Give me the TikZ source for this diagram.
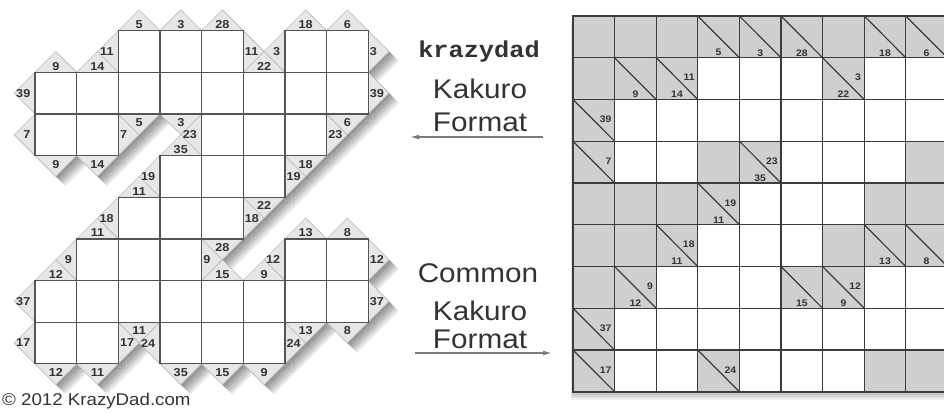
\documentclass[tikz,border=0pt]{standalone}
\usepackage{fontspec}
\setmainfont{Liberation Sans}[FakeStretch=1.1]
\newfontfamily\kdmono{Liberation Mono}[FakeStretch=1.1]
\usepackage{xcolor}
\usetikzlibrary{arrows.meta}

\definecolor{cellline}{HTML}{555555}
\definecolor{gridline}{HTML}{3C3C3C}
\definecolor{blockgray}{HTML}{CFCFCF}
\definecolor{cluetri}{HTML}{E7E7E7}
\definecolor{cluetriline}{HTML}{BBBBBB}
\definecolor{labeltext}{HTML}{333333}
\definecolor{arrowgray}{HTML}{7A7A7A}

% puzzle data, row/col in the common layout
\newcommand\whitecells{1/3,1/4,1/5,1/7,1/8,%
2/1,2/2,2/3,2/4,2/5,2/6,2/7,2/8,%
3/1,3/2,3/5,3/6,3/7,%
4/4,4/5,4/6,%
5/3,5/4,5/5,%
6/2,6/3,6/4,6/7,6/8,%
7/1,7/2,7/3,7/4,7/5,7/6,7/7,7/8,%
8/1,8/2,8/4,8/5,8/6}
% row/col/across/down (0 = none)
\newcommand\cluecells{0/3/0/5,0/4/0/3,0/5/0/28,0/7/0/18,0/8/0/6,%
1/1/0/9,1/2/11/14,1/6/3/22,2/0/39/0,3/0/7/0,3/4/23/35,%
4/3/19/11,5/2/18/11,5/7/0/13,5/8/0/8,6/1/9/12,6/5/0/15,%
6/6/12/9,7/0/37/0,8/0/17/0,8/3/24/0}
% cells just past the end of each run
\newcommand\acrossends{1/6/11,1/9/3,2/9/39,3/3/7,3/8/23,4/7/19,%
5/6/18,6/5/9,6/9/12,7/9/37,8/3/17,8/7/24}
\newcommand\downends{4/1/9,4/2/14,3/3/5,3/4/3,6/5/28,5/6/22,4/7/18,%
3/8/6,9/4/35,8/3/11,9/2/11,9/1/12,9/5/15,9/6/9,8/7/13,8/8/8}

\newcommand\kdoutline[1]{%
  \foreach \r/\c in \whitecells {\fill[#1] (\c,\r) rectangle ++(1,1);}%
  \foreach \r/\c/\a/\d in \cluecells {%
    \ifnum\a>0 \fill[#1] (\c+1,\r) -- (\c+1,\r+1) -- (\c+.5,\r+.5) -- cycle;\fi
    \ifnum\d>0 \fill[#1] (\c,\r+1) -- (\c+1,\r+1) -- (\c+.5,\r+.5) -- cycle;\fi
  }%
  \foreach \r/\c/\v in \acrossends {\fill[#1] (\c,\r) -- (\c,\r+1) -- (\c+.5,\r+.5) -- cycle;}%
  \foreach \r/\c/\v in \downends {\fill[#1] (\c,\r) -- (\c+1,\r) -- (\c+.5,\r+.5) -- cycle;}%
}

\begin{document}
\begin{tikzpicture}[x=1pt,y=-1pt,>={Latex[length=9pt,width=5pt]},
  cluetri/.style={fill=cluetri,draw=cluetriline,line width=0.6pt,line join=round},
  kdcell/.style={fill=white,draw=cellline,line width=1.2pt},
  leftnum/.style={font=\fontsize{11.5}{11.5}\selectfont\bfseries,text=labeltext,inner sep=0pt},
  rightnum/.style={font=\fontsize{9.5}{9.5}\selectfont\bfseries,text=labeltext,inner sep=0pt},
  gridline/.style={draw=gridline,line width=1.2pt},
  midtext/.style={font=\fontsize{27}{27}\selectfont,text=labeltext,anchor=base,inner sep=0pt},
  fmtarrow/.style={->,draw=arrowgray,line width=1.4pt}]
\useasboundingbox (0,0) rectangle (944,412);
\clip (0,0) rectangle (944,412);

% krazydad layout
\begin{scope}[shift={(-6.65,-11)},x=41.65pt,y=-41.65pt]
  \foreach \k in {1,...,6} {
    \begin{scope}[xshift={1.6pt*\k},yshift={-1.6pt*\k}]
      \kdoutline{black,opacity=0.085}
    \end{scope}
  }
  \foreach \r/\c/\a/\d in \cluecells {
    \ifnum\a>0 \filldraw[cluetri] (\c+1,\r) -- (\c+1,\r+1) -- (\c+.5,\r+.5) -- cycle;\fi
    \ifnum\d>0 \filldraw[cluetri] (\c,\r+1) -- (\c+1,\r+1) -- (\c+.5,\r+.5) -- cycle;\fi
  }
  \foreach \r/\c/\v in \acrossends
    \filldraw[cluetri] (\c,\r) -- (\c,\r+1) -- (\c+.5,\r+.5) -- cycle;
  \foreach \r/\c/\v in \downends
    \filldraw[cluetri] (\c,\r) -- (\c+1,\r) -- (\c+.5,\r+.5) -- cycle;
  \foreach \r/\c in \whitecells
    \draw[kdcell] (\c,\r) rectangle ++(1,1);
  \foreach \r/\c/\a/\d in \cluecells {
    \ifnum\a>0 \node[leftnum,anchor=east,xshift=-4.5pt] (lsa-\r-\c) at (\c+1,\r+.5) {\a};\fi
    \ifnum\d>0 \node[leftnum,yshift=6pt] (lsd-\r-\c) at (\c+.5,\r+1) {\d};\fi
  }
  \foreach \r/\c/\v in \acrossends
    \node[leftnum,anchor=west,xshift=1.5pt] (lea-\r-\c) at (\c,\r+.5) {\v};
  \foreach \r/\c/\v in \downends
    \node[leftnum,yshift=-8.5pt] (led-\r-\c) at (\c+.5,\r) {\v};
\end{scope}

% common layout
\begin{scope}[shift={(573,16)},x=41.6pt,y=-41.75pt]
  \foreach \k in {1,...,5}
    \fill[black,opacity=0.06,xshift={-0.4pt*\k},yshift={-1.6pt*\k}] (0,0) rectangle (9,9);
  \fill[blockgray] (0,0) rectangle (9,9);
  \foreach \r/\c in \whitecells
    \fill[white] (\c,\r) rectangle ++(1,1);
  \foreach \i in {1,...,8} {
    \draw[gridline] (\i,0) -- (\i,9);
    \draw[gridline] (0,\i) -- (9,\i);
  }
  \foreach \r/\c/\a/\d in \cluecells {
    \draw[gridline] (\c,\r) -- (\c+1,\r+1);
    \ifnum\a>0 \node[rightnum,anchor=east,xshift=-3pt,yshift=1pt] (ra-\r-\c) at (\c+1,\r+.5) {\a};\fi
    \ifnum\d>0 \node[rightnum,yshift=5pt] (rd-\r-\c) at (\c+.5,\r+1) {\d};\fi
  }
  \draw[draw=gridline,line width=2pt] (0,0) rectangle (9,9);
\end{scope}

% labels between the two layouts
\node[midtext,font=\fontsize{23}{23}\selectfont\kdmono\bfseries] (kdname) at (479,58) {krazydad};
\node[midtext] (kdkakuro) at (480,98) {Kakuro};
\node[midtext] (kdformat) at (480,131) {Format};
\coordinate (kdtail) at (543,137);
\coordinate (kdtip) at (410,137);
\draw[fmtarrow] (kdtail) -- (kdtip);

\node[midtext] (cmcommon) at (478,282) {Common};
\node[midtext] (cmkakuro) at (480,320) {Kakuro};
\node[midtext] (cmformat) at (480,348) {Format};
\coordinate (cmtail) at (415,353);
\coordinate (cmtip) at (552,353);
\draw[fmtarrow] (cmtail) -- (cmtip);

\node[font=\fontsize{17}{17}\selectfont,text=labeltext,anchor=base west,inner sep=0pt] (copyright) at (2,405) {© 2012 KrazyDad.com};
\end{tikzpicture}
\end{document}
